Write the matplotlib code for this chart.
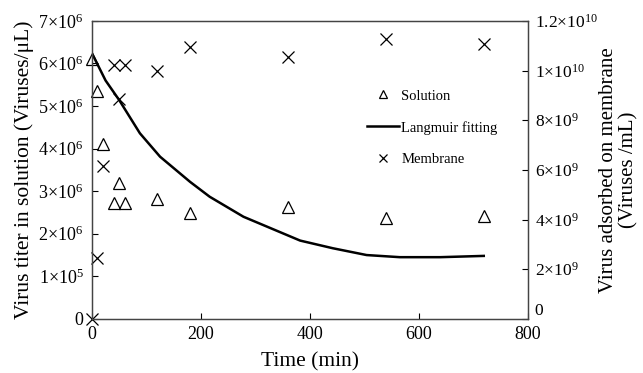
import numpy as np
import matplotlib
matplotlib.use("Agg")
import matplotlib.pyplot as plt

plt.rcParams["font.family"] = ["Liberation Serif", "DejaVu Serif"]
plt.rcParams["mathtext.fontset"] = "custom"
plt.rcParams["mathtext.rm"] = "Liberation Serif"
plt.rcParams["mathtext.it"] = "Liberation Serif:italic"

# sampling times (min)
time_min = [0, 10, 20, 40, 50, 60, 120, 180, 360, 540, 720]
# virus titer in solution (Viruses/uL)
solution = [6.1e6, 5.35e6, 4.1e6, 2.73e6, 3.2e6, 2.73e6, 2.81e6, 2.48e6, 2.62e6, 2.36e6, 2.42e6]
# virus adsorbed on membrane (Viruses/mL)
membrane = [0.0, 2.44e9, 6.14e9, 10.24e9, 8.84e9, 10.24e9, 10.0e9, 10.96e9, 10.56e9, 11.27e9, 11.07e9]

# Langmuir fitting curve
fit_t = [0, 25, 50, 88, 125, 180, 216, 278, 382, 442, 504, 565, 639, 719]
fit_v = [6.24e6, 5.6e6, 5.14e6, 4.36e6, 3.81e6, 3.22e6, 2.87e6, 2.40e6, 1.84e6, 1.66e6, 1.50e6, 1.45e6, 1.45e6, 1.48e6]

left_ticks = [0, 1e6, 2e6, 3e6, 4e6, 5e6, 6e6, 7e6]
left_labels = ["0", r"1$\times$10$^{5}$", r"2$\times$10$^{6}$", r"3$\times$10$^{6}$",
               r"4$\times$10$^{6}$", r"5$\times$10$^{6}$", r"6$\times$10$^{6}$", r"7$\times$10$^{6}$"]
right_ticks = [0, 2e9, 4e9, 6e9, 8e9, 10e9, 12e9]
right_labels = ["0", r"2$\times$10$^{9}$", r"4$\times$10$^{9}$", r"6$\times$10$^{9}$",
                r"8$\times$10$^{9}$", r"1$\times$10$^{10}$", r"1.2$\times$10$^{10}$"]

fig = plt.figure(figsize=(6.43, 3.73), dpi=100)
ax = fig.add_axes([0.143, 0.145, 0.678, 0.799])
ax2 = ax.twinx()

l1, = ax.plot(time_min, solution, linestyle="none", marker="^", markersize=8,
              markerfacecolor="none", markeredgecolor="black", markeredgewidth=0.9,
              label="Solution", clip_on=False)
l2, = ax.plot(fit_t, fit_v, color="black", linewidth=1.8, label="Langmuir fitting")
l3, = ax2.plot(time_min, membrane, linestyle="none", marker="x", markersize=8,
               color="black", markeredgewidth=0.9, label="Membrane", clip_on=False)

ax.set_xlim(0, 800)
ax.set_ylim(0, 7e6)
ax2.set_ylim(0, 12e9)

ax.set_xticks([0, 200, 400, 600, 800])
ax.set_yticks(left_ticks)
ax.set_yticklabels(left_labels)
ax2.set_yticks(right_ticks)
ax2.set_yticklabels(right_labels)

ax.tick_params(axis="both", direction="in", labelsize=13, length=4, width=0.8, pad=6)
ax.tick_params(axis="x", pad=5)
ax2.tick_params(axis="y", direction="in", labelsize=12.5, length=4, width=0.8, pad=5)

# the right-hand "0" sits a little above its tick in the original
ax2.yaxis.get_major_ticks()[0].label2.set_va("bottom")

for a in (ax, ax2):
    for s in a.spines.values():
        s.set_color("#444444")
        s.set_linewidth(0.9)

ax.set_xlabel("Time (min)", fontsize=15.5, labelpad=7)
ax.set_ylabel("Virus titer in solution (Viruses/μL)", fontsize=15.5, labelpad=3)
ax2.set_ylabel("Virus adsorbed on membrane\n(Viruses /mL)", fontsize=15, labelpad=1,
               linespacing=1.1)

ax.legend([l1, l2, l3], ["Solution", "Langmuir fitting", "Membrane"],
          loc="upper left", bbox_to_anchor=(0.618, 0.79), frameon=False,
          fontsize=10.5, handlelength=2.2, handletextpad=0.15, labelspacing=1.25,
          borderaxespad=0, markerscale=0.7)

fig.savefig("out.png", dpi=100)
